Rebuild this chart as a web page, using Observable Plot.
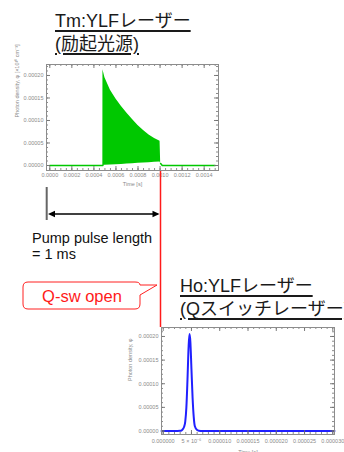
<!DOCTYPE html>
<html><head><meta charset="utf-8">
<script src="https://cdn.jsdelivr.net/npm/d3@7"></script>
<script src="https://cdn.jsdelivr.net/npm/@observablehq/plot@0.6"></script>
<style>
html,body{margin:0;padding:0;background:#fff;}
#root{position:relative;width:344px;height:452px;overflow:hidden;font-family:"Liberation Sans",Arial,sans-serif;}
.title{position:absolute;font-size:18px;line-height:23px;white-space:nowrap;text-decoration:underline;text-underline-offset:3px;text-decoration-thickness:1.5px;font-family:"Liberation Sans","Noto Sans CJK JP",sans-serif;color:#1a1a1a;}
.pl{position:absolute;}
</style></head><body><div id="root"></div>
<script>
// ---- texts ----
const tmTitle = ["Tm:YLFレーザー", "(励起光源)"];
const hoTitle = ["Ho:YLFレーザー", "(Qスイッチレーザー)"];
const pumpText = ["Pump pulse length", "= 1 ms"];
const qswText = "Q-sw open";
const yLabelTop = "Photon density, φ [×10¹⁰ cm⁻³]";
const yLabelBottom = "Photon density, φ";
const xLabel = "Time [s]";

// ---- Tm:YLF (pump) : envelope of the dense green oscillation ----
const tmT  = [0.000481, 0.000482, 0.000487, 0.0005, 0.00055, 0.0006, 0.00065, 0.0007, 0.00075, 0.0008, 0.00085, 0.0009, 0.00095, 0.001, 0.001005];
const tmHi = [0, 0.000213, 0.000208, 0.000195, 0.000167, 0.000148, 0.000131, 0.000116, 0.000102, 0.000089, 0.000078, 0.000068, 0.00006, 0.000054, 0.00001];
const tmLo = [0, 0, 0, 0.0000004, 0.000001, 0.0000018, 0.0000025, 0.0000033, 0.000004, 0.0000048, 0.0000055, 0.0000062, 0.000007, 0.0000078, 0.0000045];
// baseline segments of the green trace
const tmBaseT   = [0, 0.000482, 0.001005, 0.00102, 0.0015];
const tmBaseV   = [0, 0, 0.0000045, 0, 0];
const tmBaseSeg = ["a", "a", "b", "b", "b"];

// ---- Ho:YLF (Q-switched) pulse ----
const hoT   = [-0.3e-6, 2.5e-6, 3.0e-6, 3.2e-6, 3.4e-6, 3.7e-6, 3.9e-6, 4.1e-6, 4.3e-6, 4.5e-6, 4.65e-6, 4.8e-6, 5.0e-6, 5.2e-6, 5.4e-6, 5.6e-6, 6.0e-6, 6.3e-6, 7e-6, 10e-6, 20e-6, 30.3e-6];
const hoPhi = [0, 0, 0.0000003, 0.000001, 0.000003, 0.000009, 0.00002, 0.00005, 0.00011, 0.00018, 0.000205, 0.00019, 0.00013, 0.00007, 0.00003, 0.00001, 0.000002, 0.0000005, 0, 0, 0, 0];

// ---- ticks ----
const topXTicks = [0, 0.0002, 0.0004, 0.0006, 0.0008, 0.0010, 0.0012, 0.0014];
const topYTicks = [0, 0.00005, 0.0001, 0.00015, 0.0002];
const botXTicks = [0, 5e-6, 10e-6, 15e-6, 20e-6, 25e-6, 30e-6];
const botXLabels = ["0.000000", "5 × 10⁻⁶", "0.000010", "0.000015", "0.000020", "0.000025", "0.000030"];
const botYTicks = [0, 0.00005, 0.0001, 0.00015, 0.0002];

const topXMinor = d3.range(0, 0.00152, 0.00005);
const topYMinor = d3.range(0, 0.000221, 0.00001);
const botXMinor = d3.range(0, 30.5e-6, 1e-6);
const botYMinor = d3.range(0, 0.000216, 0.00001);

const tmData = tmT.map((t, i) => ({t, hi: tmHi[i], lo: tmLo[i]}));
const tmBase = tmBaseT.map((t, i) => ({t, v: tmBaseV[i], seg: tmBaseSeg[i]}));
const hoData = hoT.map((t, i) => ({t, phi: hoPhi[i]}));

const root = document.getElementById("root");
const tickCol = "#6e6e6e", frameCol = "#8c8c8c", labCol = "#8a8a8a";

function frameTicks(xMaj, xMin, yMaj, yMin, FW, FH) {
  return [
    Plot.tickX(xMin, {x: d => d, stroke: tickCol, strokeWidth: 0.8, insetTop: FH - 2}),
    Plot.tickX(xMin, {x: d => d, stroke: tickCol, strokeWidth: 0.8, insetBottom: FH - 2}),
    Plot.tickX(xMaj, {x: d => d, stroke: tickCol, strokeWidth: 0.9, insetTop: FH - 4}),
    Plot.tickX(xMaj, {x: d => d, stroke: tickCol, strokeWidth: 0.9, insetBottom: FH - 4}),
    Plot.tickY(yMin, {y: d => d, stroke: tickCol, strokeWidth: 0.8, insetRight: FW - 2}),
    Plot.tickY(yMin, {y: d => d, stroke: tickCol, strokeWidth: 0.8, insetLeft: FW - 2}),
    Plot.tickY(yMaj, {y: d => d, stroke: tickCol, strokeWidth: 0.9, insetRight: FW - 4}),
    Plot.tickY(yMaj, {y: d => d, stroke: tickCol, strokeWidth: 0.9, insetLeft: FW - 4}),
    Plot.frame({stroke: frameCol, strokeWidth: 1})
  ];
}

// ---- top plot ----
const topPlot = Plot.plot({
  width: 230, height: 135, marginLeft: 46, marginRight: 12, marginTop: 4, marginBottom: 25,
  style: {fontFamily: "Liberation Sans, Arial, sans-serif", fontSize: "5.5px", color: labCol, background: "transparent", overflow: "visible"},
  x: {domain: [-0.00003, 0.00153]},
  y: {domain: [-0.0000111, 0.0002244]},
  marks: [
    Plot.lineY(tmBase, {x: "t", y: "v", z: "seg", stroke: "#00c800", strokeWidth: 1.5}),
    Plot.areaY(tmData, {x: "t", y1: "lo", y2: "hi", fill: "#00c800", curve: "linear"}),
    ...frameTicks(topXTicks, topXMinor, topYTicks, topYMinor, 172, 106),
    Plot.axisX({ticks: topXTicks, tickSize: 0, tickPadding: 2.5, tickFormat: d3.format(".4f"), label: null, fill: labCol}),
    Plot.axisY({ticks: topYTicks, tickSize: 0, tickPadding: 3, tickFormat: d3.format(".5f"), label: null, fill: labCol}),
    Plot.text([yLabelTop], {text: d => d, frameAnchor: "left", rotate: -90, dx: -29, fill: labCol, fontSize: 5.5}),
    Plot.text([xLabel], {text: d => d, frameAnchor: "bottom", dy: 15, fill: labCol, fontSize: 5.5})
  ]
});
const w1 = document.createElement("div");
w1.className = "pl"; w1.style.left = "0px"; w1.style.top = "60px"; w1.style.width = "230px";
w1.appendChild(topPlot); root.appendChild(w1);

// ---- bottom plot ----
const botPlot = Plot.plot({
  width: 224, height: 130, marginLeft: 41, marginRight: 10, marginTop: 5, marginBottom: 18,
  style: {fontFamily: "Liberation Sans, Arial, sans-serif", fontSize: "5.5px", color: labCol, background: "transparent", overflow: "visible"},
  x: {domain: [-0.3e-6, 30.3e-6]},
  y: {domain: [-0.0000074, 0.000219]},
  marks: [
    Plot.lineY(hoData, {x: "t", y: "phi", stroke: "#2020ff", strokeWidth: 2, curve: "monotone-x"}),
    ...frameTicks(botXTicks, botXMinor, botYTicks, botYMinor, 173, 107),
    Plot.axisX({ticks: botXTicks, tickSize: 0, tickPadding: 4.5, tickFormat: d => botXLabels[botXTicks.indexOf(d)], label: null, fill: labCol}),
    Plot.axisY({ticks: botYTicks, tickSize: 0, tickPadding: 3, tickFormat: d3.format(".5f"), label: null, fill: labCol}),
    Plot.text([yLabelBottom], {text: d => d, frameAnchor: "left", rotate: -90, dx: -31, fill: labCol, fontSize: 5.5}),
    Plot.text([xLabel], {text: d => d, frameAnchor: "bottom", dy: 19, fill: labCol, fontSize: 5.5})
  ]
});
const w2 = document.createElement("div");
w2.className = "pl"; w2.style.left = "120px"; w2.style.top = "322px"; w2.style.width = "224px";
w2.appendChild(botPlot); root.appendChild(w2);

// ---- titles ----
function addTitle(lines, left, top) {
  const d = document.createElement("div");
  d.className = "title"; d.style.left = left + "px"; d.style.top = top + "px";
  d.innerHTML = lines.map(s => `<div>${s}</div>`).join("");
  root.appendChild(d);
}
addTitle(tmTitle, 55, 10);
addTitle(hoTitle, 180, 275);

// ---- annotations overlay ----
const svg = d3.select(root).append("svg")
  .attr("width", 344).attr("height", 452)
  .style("position", "absolute").style("left", 0).style("top", 0).style("pointer-events", "none");

const redX = 160.5;
svg.append("line").attr("x1", redX).attr("x2", redX).attr("y1", 171).attr("y2", 327)
  .attr("stroke", "#ff1a1a").attr("stroke-width", 1.5);

// pump pulse bracket
svg.append("line").attr("x1", 46.7).attr("x2", 46.7).attr("y1", 187).attr("y2", 220)
  .attr("stroke", "#666").attr("stroke-width", 2);
const ay = 214;
svg.append("line").attr("x1", 50).attr("x2", redX - 3).attr("y1", ay).attr("y2", ay)
  .attr("stroke", "#000").attr("stroke-width", 1.3);
svg.append("path").attr("d", `M48,${ay} L55,${ay - 3.2} L55,${ay + 3.2} Z`).attr("fill", "#000");
svg.append("path").attr("d", `M${redX - 1},${ay} L${redX - 8},${ay - 3.2} L${redX - 8},${ay + 3.2} Z`).attr("fill", "#000");

const pt = svg.append("text").attr("font-family", "Liberation Sans, Arial, sans-serif")
  .attr("font-size", 14.5).attr("fill", "#111");
pt.append("tspan").attr("x", 32).attr("y", 242.5).text(pumpText[0]);
pt.append("tspan").attr("x", 32).attr("y", 259).text(pumpText[1]);

// callout
svg.append("path")
  .attr("d", "M28,282 H135 Q140,282 140,285 L157,285 L140,295 V304 Q140,309 135,309 H28 Q23,309 23,304 V287 Q23,282 28,282 Z")
  .attr("fill", "#fff").attr("stroke", "#ff2020").attr("stroke-width", 1);
svg.append("text").attr("x", 82).attr("y", 302).attr("text-anchor", "middle")
  .attr("font-family", "Liberation Sans, Arial, sans-serif").attr("font-size", 16.5)
  .attr("fill", "#ff1a1a").text(qswText);
</script></body></html>
